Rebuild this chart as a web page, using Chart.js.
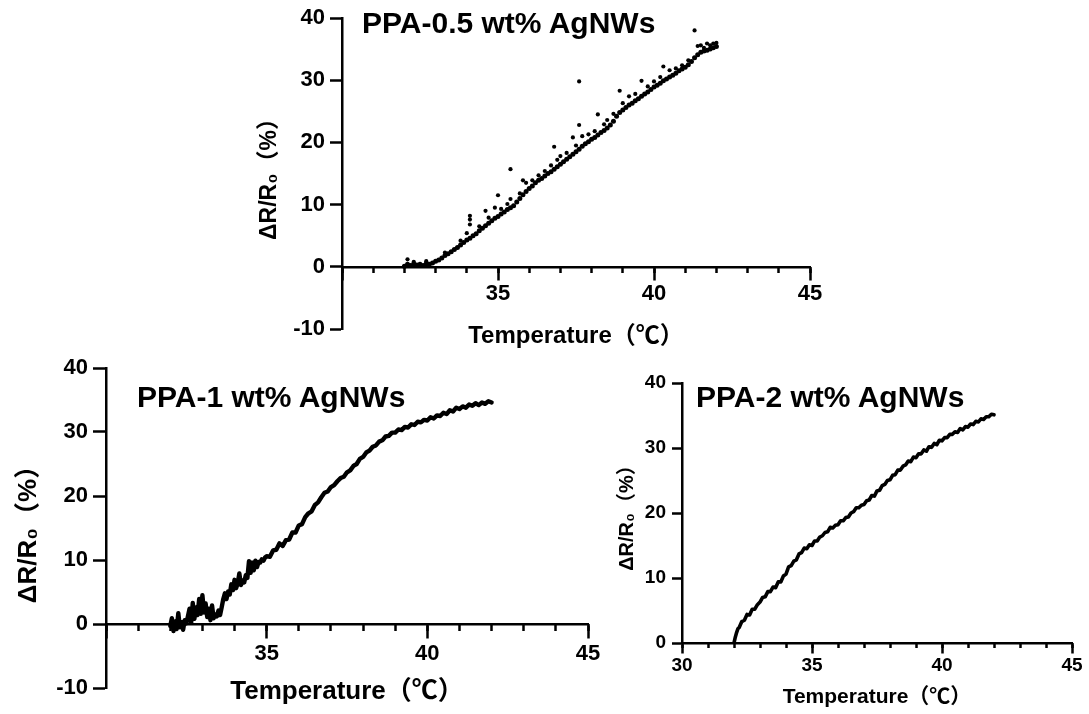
<!DOCTYPE html>
<html><head><meta charset="utf-8">
<script src="https://cdn.jsdelivr.net/npm/chart.js@4"></script>
<style>
html,body{margin:0;padding:0;background:#fff;width:1089px;height:714px;overflow:hidden;}
.panel{position:absolute;}
.lbl{position:absolute;font-family:'Liberation Sans',Arial,sans-serif;font-weight:bold;font-size:30px;line-height:1;color:#000;white-space:nowrap;}
</style></head><body>
<div class="panel" style="left:230px;top:0px"><canvas id="c1" width="620" height="355"></canvas></div>
<div class="panel" style="left:0px;top:350px"><canvas id="c2" width="620" height="364"></canvas></div>
<div class="panel" style="left:600px;top:355px"><canvas id="c3" width="489" height="359"></canvas></div>
<div class="lbl" style="left:362px;top:8px">PPA-0.5 wt% AgNWs</div>
<div class="lbl" style="left:137px;top:382px">PPA-1 wt% AgNWs</div>
<div class="lbl" style="left:696px;top:382px">PPA-2 wt% AgNWs</div>
<script>
// ---------- data ----------
const xTickLabels = [30, 35, 40, 45];
const yTickLabels = [-10, 0, 10, 20, 30, 40];

// PPA-0.5 wt% AgNWs : main row of points
const T05 = [32.0,32.1,32.2,32.3,32.4,32.5,32.6,32.7,32.8,32.9,33.0,33.1,33.2,33.3,33.4,33.5,33.6,33.7,33.8,33.9,
34.0,34.1,34.2,34.3,34.4,34.5,34.6,34.7,34.8,34.9,35.0,35.1,35.2,35.3,35.4,35.5,35.6,35.7,35.8,35.9,
36.0,36.1,36.2,36.3,36.4,36.5,36.6,36.7,36.8,36.9,37.0,37.1,37.2,37.3,37.4,37.5,37.6,37.7,37.8,37.9,
38.0,38.1,38.2,38.3,38.4,38.5,38.6,38.7,38.8,38.9,39.0,39.1,39.2,39.3,39.4,39.5,39.6,39.7,39.8,39.9,
40.0,40.1,40.2,40.3,40.4,40.5,40.6,40.7,40.8,40.9,41.0,41.1,41.2,41.3,41.4,41.5,41.6,41.7,41.8,41.9,42.0];
const R05 = [0.1,0.4,0.2,0.5,0.3,0.4,0.2,0.5,0.4,0.6,0.9,1.1,1.4,1.8,2.1,2.4,2.8,3.1,3.5,3.9,
4.3,4.6,5.0,5.3,5.8,6.2,6.6,7.0,7.4,7.8,8.1,8.5,8.8,9.2,9.5,9.8,10.4,11.0,11.6,12.1,
12.6,13.0,13.5,13.9,14.2,14.6,15.0,15.3,15.7,16.1,16.5,16.9,17.3,17.7,18.1,18.5,18.9,19.4,19.8,20.1,
20.5,20.8,21.2,21.6,21.9,22.3,22.8,23.4,24.2,24.8,25.2,25.6,26.0,26.3,26.7,27.0,27.4,27.8,28.1,28.5,
28.9,29.2,29.5,29.9,30.2,30.5,30.8,31.1,31.5,31.8,32.1,32.5,33.0,33.6,34.1,34.5,34.7,34.8,35.0,35.2,35.4];
// PPA-0.5 wt% AgNWs : scattered points above the main row
const T05b = [32.1,32.3,32.7,33.3,33.8,34.0,34.1,34.1,34.1,34.4,34.6,34.7,34.9,35.0,35.1,35.3,35.4,35.4,35.7,35.8,
35.9,36.1,36.3,36.5,36.7,36.8,36.9,37.0,37.2,37.4,37.5,37.6,37.6,37.7,37.9,38.1,38.2,38.4,38.5,38.7,
38.9,39.0,39.2,39.4,39.6,39.8,40.0,40.2,40.3,40.5,40.7,40.9,41.1,41.3,41.4,41.5,41.6,41.7,41.8,41.9,42.0];
const R05b = [1.2,0.8,0.9,2.3,4.2,5.4,8.2,7.6,6.8,6.5,9.0,7.9,9.5,11.5,9.3,10.1,15.7,10.9,11.8,13.9,
13.5,13.9,14.7,15.4,16.3,19.3,17.2,17.8,18.3,20.8,19.5,29.8,22.8,21.0,21.3,21.8,24.5,22.9,23.6,24.6,
28.3,26.3,27.4,27.8,29.9,29.0,29.8,30.5,32.2,31.6,31.9,32.4,33.2,38.0,35.5,35.6,35.2,35.9,35.6,35.9,36.0];

// PPA-1 wt% AgNWs
const T1 = [32.00,32.05,32.10,32.15,32.20,32.25,32.30,32.35,32.40,32.45,32.50,32.55,32.60,32.65,32.70,32.75,32.80,32.85,32.90,32.95,
33.00,33.05,33.10,33.15,33.20,33.25,33.30,33.35,33.40,33.45,33.50,33.55,33.60,33.65,33.70,33.75,33.80,33.85,33.90,33.95,
34.00,34.05,34.10,34.15,34.20,34.25,34.30,34.35,34.40,34.45,34.50,34.55,34.60,34.65,34.70,34.75,34.80,34.85,34.90,34.95,
35.0,35.1,35.2,35.3,35.4,35.5,35.6,35.7,35.8,35.9,36.0,36.1,36.2,36.3,36.4,36.5,36.6,36.7,36.8,36.9,
37.0,37.1,37.2,37.3,37.4,37.5,37.6,37.7,37.8,37.9,38.0,38.1,38.2,38.3,38.4,38.5,38.6,38.7,38.8,38.9,
39.0,39.1,39.2,39.3,39.4,39.5,39.6,39.7,39.8,39.9,40.0,40.1,40.2,40.3,40.4,40.5,40.6,40.7,40.8,40.9,
41.0,41.1,41.2,41.3,41.4,41.5,41.6,41.7,41.8,41.9,42.0];
const R1 = [-0.3,0.9,-1.1,0.4,-0.8,1.7,-0.5,0.3,-0.9,0.6,0.1,1.2,2.4,0.2,3.3,0.8,2.6,1.4,3.9,1.6,
4.5,1.8,3.2,1.1,2.4,0.6,2.9,0.9,1.5,1.2,2.1,1.4,2.6,3.9,4.8,3.9,5.1,4.6,6.2,5.3,
6.9,5.6,6.4,7.9,6.1,6.8,6.5,7.6,7.2,9.8,8.0,9.6,8.4,9.9,8.9,9.7,9.6,10.1,9.9,10.4,
10.6,10.5,11.5,11.6,12.6,12.2,13.1,13.2,14.3,14.3,15.4,15.6,16.7,17.3,17.6,18.6,19.0,19.8,20.5,20.7,
21.4,21.7,22.3,22.8,23.0,23.7,24.0,24.7,25.0,25.8,26.1,26.8,27.1,27.7,27.9,28.5,28.7,29.3,29.4,29.9,
29.9,30.4,30.3,30.8,30.7,31.2,31.1,31.6,31.5,31.9,31.8,32.3,32.1,32.6,32.5,33.0,32.8,33.4,33.2,33.8,
33.6,34.0,33.8,34.3,34.1,34.5,34.2,34.6,34.4,34.8,34.6];

// PPA-2 wt% AgNWs
const T2 = [32.0,32.05,32.1,32.15,32.2,32.3,32.4,32.5,32.6,32.7,32.8,32.9,33.0,33.1,33.2,33.3,33.4,33.5,33.6,33.7,33.8,33.9,
34.0,34.1,34.2,34.3,34.4,34.5,34.6,34.7,34.8,34.9,35.0,35.1,35.2,35.3,35.4,35.5,35.6,35.7,35.8,35.9,
36.0,36.1,36.2,36.3,36.4,36.5,36.6,36.7,36.8,36.9,37.0,37.1,37.2,37.3,37.4,37.5,37.6,37.7,37.8,37.9,
38.0,38.1,38.2,38.3,38.4,38.5,38.6,38.7,38.8,38.9,39.0,39.1,39.2,39.3,39.4,39.5,39.6,39.7,39.8,39.9,
40.0,40.1,40.2,40.3,40.4,40.5,40.6,40.7,40.8,40.9,41.0,41.1,41.2,41.3,41.4,41.5,41.6,41.7,41.8,41.9,42.0];
const R2 = [0.0,0.9,1.6,2.2,2.4,3.3,3.5,4.4,4.3,5.2,5.2,5.9,6.3,7.0,7.1,7.9,7.9,8.6,8.5,9.4,9.4,10.3,
10.6,11.7,11.9,12.6,12.8,13.7,13.9,14.6,14.5,15.1,15.0,15.7,15.7,16.3,16.5,17.0,17.1,17.8,17.7,18.1,
18.2,18.8,18.8,19.3,19.4,20.0,20.2,20.8,20.8,21.2,21.3,21.9,22.0,22.7,22.6,23.4,23.5,24.2,24.4,25.0,
25.1,25.8,25.9,26.6,26.6,27.2,27.4,28.0,27.9,28.6,28.5,29.1,29.1,29.7,29.5,30.2,30.1,30.7,30.5,31.2,
31.1,31.6,31.6,32.1,32.1,32.5,32.4,33.0,32.8,33.3,33.2,33.7,33.6,34.1,34.0,34.5,34.4,34.8,34.8,35.2,35.1];

const FAM = "'Liberation Sans', Arial, 'Noto Sans CJK SC', sans-serif";
const pts = (xs, ys) => xs.map((x, i) => ({x: x, y: ys[i]}));

function makePanel(id, o) {
  const f = (s) => ({family: FAM, weight: 'bold', size: s, lineHeight: 1});
  new Chart(document.getElementById(id), {
    type: 'scatter',
    data: {datasets: o.datasets},
    options: {
      responsive: false, animation: false, events: [],
      layout: {padding: o.pad},
      plugins: {legend: {display: false}, tooltip: {enabled: false}},
      scales: {
        x: {
          type: 'linear', position: {y: 0}, min: 30, max: 45,
          afterBuildTicks: s => { s.ticks = xTickLabels.map(v => ({value: v})); },
          afterFit: s => { s.height = o.xH; },
          ticks: {font: f(o.tickSize), color: '#000', padding: o.xTickPad, autoSkip: false, maxRotation: 0,
                  callback: v => (v === 30 && !o.show30) ? '' : String(v)},
          grid: {drawOnChartArea: false, drawTicks: true, tickLength: o.majorLen, tickWidth: 2.5, tickColor: '#000'},
          border: {display: true, color: '#000', width: 2.5},
          title: {display: true, text: 'Temperature（℃）', font: f(o.xTitleSize), color: '#000', padding: 0}
        },
        xm: {
          type: 'linear', axis: 'x', position: {y: 0}, min: 30, max: 45,
          ticks: {stepSize: 1, display: false},
          grid: {drawOnChartArea: false, drawTicks: true, tickLength: o.minorLen, tickWidth: 2.5, tickColor: '#000'},
          border: {display: false}
        },
        y: {
          type: 'linear', position: 'left', min: o.ymin, max: 40,
          afterBuildTicks: s => { s.ticks = yTickLabels.filter(v => v >= o.ymin).map(v => ({value: v})); },
          afterFit: s => { s.width = o.yW; },
          ticks: {font: f(o.tickSize), color: '#000', padding: o.yTickPad},
          grid: {drawOnChartArea: false, drawTicks: true, tickLength: o.yLen, tickWidth: 2.5, tickColor: '#000'},
          border: {display: true, color: '#000', width: 2.5},
          title: {display: true, text: 'ΔR/R₀（%）', font: f(o.yTitleSize), color: '#000', padding: {top: o.yTitlePad, bottom: 0}}
        }
      }
    }
  });
}

makePanel('c1', {
  pad: {left: 0, top: 18, right: 40, bottom: 26}, yW: 112, ymin: -10, xH: 82,
  tickSize: 22, xTickPad: 4, yTickPad: 5, majorLen: 12, minorLen: 6, yLen: 12,
  xTitleSize: 24, yTitleSize: 23, yTitlePad: 28, show30: false,
  datasets: [
    {data: pts(T05, R05), xAxisID: 'x', yAxisID: 'y', pointRadius: 2.5, backgroundColor: '#000', borderWidth: 0, showLine: false},
    {data: pts(T05b, R05b), xAxisID: 'x', yAxisID: 'y', pointRadius: 2.1, backgroundColor: '#000', borderWidth: 0, showLine: false}
  ]
});

makePanel('c2', {
  pad: {left: 0, top: 18, right: 32, bottom: 26}, yW: 106, ymin: -10, xH: 81,
  tickSize: 22, xTickPad: 6, yTickPad: 5, majorLen: 13, minorLen: 7, yLen: 13,
  xTitleSize: 26, yTitleSize: 26, yTitlePad: 16, show30: false,
  datasets: [
    {data: pts(T1, R1), xAxisID: 'x', yAxisID: 'y', showLine: true, pointRadius: 0, borderColor: '#000', borderWidth: 4.4,
     borderJoinStyle: 'round', borderCapStyle: 'round', tension: 0}
  ]
});

makePanel('c3', {
  pad: {left: 0, top: 28, right: 17, bottom: 71}, yW: 82, ymin: 0, xH: 65,
  tickSize: 19, xTickPad: 4, yTickPad: 6, majorLen: 9, minorLen: 5, yLen: 10,
  xTitleSize: 21, yTitleSize: 20, yTitlePad: 17, show30: true,
  datasets: [
    {data: pts(T2, R2), xAxisID: 'x', yAxisID: 'y', showLine: true, pointRadius: 0, borderColor: '#000', borderWidth: 3.6,
     borderJoinStyle: 'round', borderCapStyle: 'round', tension: 0}
  ]
});
</script>
</body></html>
